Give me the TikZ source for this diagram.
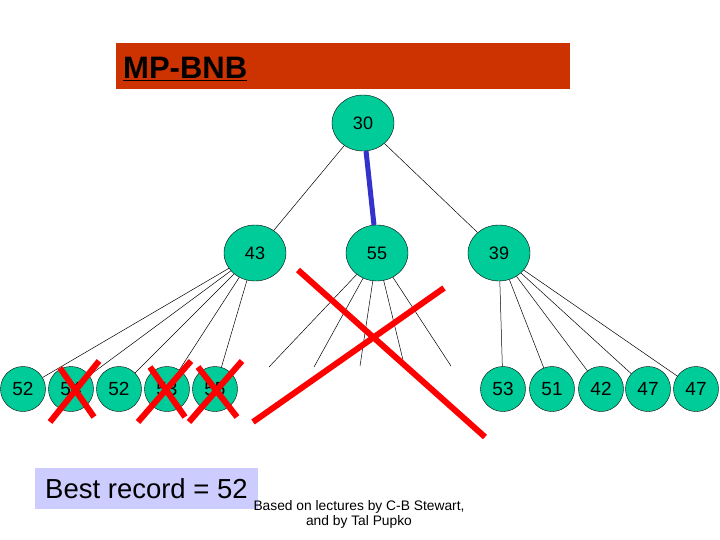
\documentclass[tikz,border=0pt]{standalone}
\usepackage{fontspec}
\setmainfont{Liberation Sans}
\usetikzlibrary{shapes.geometric}
\definecolor{nodegreen}{RGB}{0,204,153}
\definecolor{titlered}{RGB}{204,51,0}
\definecolor{edgeblue}{RGB}{51,51,204}
\definecolor{recordbg}{RGB}{204,204,255}
\definecolor{crossred}{RGB}{255,0,0}
\begin{document}
\begin{tikzpicture}[x=1pt,y=-1pt,
  bignode/.style={ellipse,draw=black,fill=nodegreen,inner sep=0pt,minimum width=62pt,minimum height=56pt,font=\fontsize{18}{21}\selectfont},
  leaf/.style={circle,draw=black,fill=nodegreen,inner sep=0pt,minimum size=45pt,font=\fontsize{19}{22}\selectfont},
  edge/.style={draw=black,line width=0.5pt},
  crossline/.style={draw=crossred,line width=6pt},
  bluelink/.style={draw=edgeblue,line width=5pt}]
\path[use as bounding box] (0,0) rectangle (720,540);
% title bar
\fill[titlered] (116,43) rectangle (570,89);
\node[anchor=base west,inner sep=0pt,font=\fontsize{31}{35}\selectfont\bfseries] (title) at (123,79) {\underline{MP-BNB}};
% nodes
\node[bignode] (n30) at (363,123) {30};
\node[bignode] (n43) at (255,253) {43};
\node[bignode] (n55) at (377,253) {55};
\node[bignode] (n39) at (499,253) {39};
\node[leaf] (a1) at (23,389) {52};
\node[leaf] (a2) at (71,389) {54};
\node[leaf] (a3) at (119,389) {52};
\node[leaf] (a4) at (167,389) {53};
\node[leaf] (a5) at (215,389) {55};
\node[leaf] (b1) at (503,389) {53};
\node[leaf] (b2) at (552,389) {51};
\node[leaf] (b3) at (601,389) {42};
\node[leaf] (b4) at (648,389) {47};
\node[leaf] (b5) at (696,389) {47};
% free ends under 55
\coordinate (c1) at (269,367);
\coordinate (c2) at (314,367);
\coordinate (c3) at (360,366);
\coordinate (c4) at (403,360);
\coordinate (c5) at (451,366);
% edges
\draw[edge] (n30) -- (n43);
\draw[edge] (n30) -- (n39);
\foreach \t in {a1,a2,a3,a4,a5} {\draw[edge] (n43) -- (\t);}
\foreach \t in {b1,b2,b3,b4,b5} {\draw[edge] (n39) -- (\t);}
\foreach \t in {c1,c2,c3,c4,c5} {\draw[edge] (n55) -- (\t);}
\draw[bluelink] (n30) -- (n55);
% crosses
\coordinate (x1a) at (50,422); \coordinate (x1b) at (99,361);
\coordinate (x1c) at (60,368); \coordinate (x1d) at (94,417);
\coordinate (x2a) at (138,422); \coordinate (x2b) at (191,361);
\coordinate (x2c) at (150,367); \coordinate (x2d) at (185,417);
\coordinate (x3a) at (189,422); \coordinate (x3b) at (242,361);
\coordinate (x3c) at (198,367); \coordinate (x3d) at (237,417);
\draw[crossline] (x1a) -- (x1b); \draw[crossline] (x1c) -- (x1d);
\draw[crossline] (x2a) -- (x2b); \draw[crossline] (x2c) -- (x2d);
\draw[crossline] (x3a) -- (x3b); \draw[crossline] (x3c) -- (x3d);
\coordinate (X1) at (298,270); \coordinate (X2) at (485,437);
\coordinate (X3) at (253,422); \coordinate (X4) at (444,288);
\draw[crossline] (X1) -- (X2);
\draw[crossline] (X3) -- (X4);
% record box
\fill[recordbg] (35,468) rectangle (258,509);
\node[anchor=base west,inner sep=0pt,font=\fontsize{27.5}{31}\selectfont] (rec) at (45,498) {Best record = 52};
\node[align=center,inner sep=0pt,font=\fontsize{13.8}{15}\selectfont] (credit) at (359,514) {Based on lectures by C-B Stewart,\\and by Tal Pupko};
\end{tikzpicture}
\end{document}
